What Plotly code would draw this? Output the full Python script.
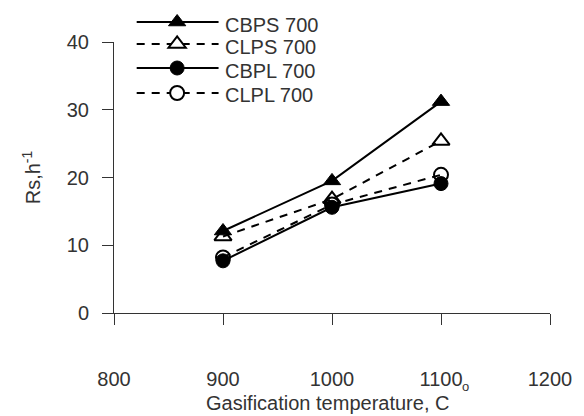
import plotly.graph_objects as go

temps = [900, 1000, 1100]
cbps = [12.1, 19.5, 31.2]
clps = [11.3, 16.8, 25.4]
cbpl = [7.7, 15.6, 19.1]
clpl = [8.2, 16.0, 20.4]
series_names = ["CBPS 700", "CLPS 700", "CBPL 700", "CLPL 700"]
x_ticks = [800, 900, 1000, 1100, 1200]
y_ticks = [0, 10, 20, 30, 40]

# page body has an 8px margin; compensate so the chart lands where the reference has it
OFF = 8
W, H = 584 - OFF, 416 - OFF
L, R, T, B = 114 - OFF, 28, 42 - OFF, 103
PW, PH = W - L - R, H - T - B
def px(x):
    return (x - OFF - L) / PW
def py(y):
    return (T + PH - (y - OFF)) / PH

FONT = "Liberation Sans, Arial, sans-serif"
TXT = "#333333"

styles = [
    dict(dash="solid", symbol="triangle-up", size=15, fill=True),
    dict(dash="8px,7px", symbol="triangle-up-open", size=15, fill=False),
    dict(dash="solid", symbol="circle", size=14, fill=True),
    dict(dash="8px,7px", symbol="circle-open", size=14, fill=False),
]
data = [cbps, clps, cbpl, clpl]
order = [1, 0, 3, 2]

fig = go.Figure()
for i in order:
    st = styles[i]
    fig.add_trace(go.Scatter(
        x=temps, y=data[i], name=series_names[i], mode="lines+markers",
        line=dict(color="black", width=2, dash=st["dash"]),
        marker=dict(symbol=st["symbol"], size=st["size"], color="black",
                    line=dict(color="black", width=1 if st["fill"] else 2)),
        showlegend=False, cliponaxis=False,
    ))

# manual legend
leg_line_y = [22, 44, 68, 93]
leg_text_y = [24.5, 47, 71, 95]
shapes = []
annotations = []
for i, nm in enumerate(series_names):
    st = styles[i]
    yl = py(leg_line_y[i])
    shapes.append(dict(type="line", xref="paper", yref="paper",
                       x0=px(137), x1=px(220), y0=yl, y1=yl,
                       line=dict(color="black", width=2,
                                 dash="solid" if st["dash"] == "solid" else "8px,7px")))
    fillc = "black" if st["fill"] else "white"
    if "triangle" in st["symbol"]:
        r = st["size"] / 2
        rt = r * 2 / 3 ** 0.5
        path = f"M{-rt:.2f},{-r/2:.2f} L{rt:.2f},{-r/2:.2f} L0,{r:.2f} Z"
        shapes.append(dict(type="path", xref="paper", yref="paper",
                           xsizemode="pixel", ysizemode="pixel",
                           xanchor=px(178), yanchor=yl, path=path,
                           fillcolor=fillc,
                           line=dict(color="black", width=1 if st["fill"] else 2)))
    else:
        r = st["size"] / 2
        shapes.append(dict(type="circle", xref="paper", yref="paper",
                           xsizemode="pixel", ysizemode="pixel",
                           xanchor=px(178), yanchor=yl,
                           x0=-r, x1=r, y0=-r, y1=r, fillcolor=fillc,
                           line=dict(color="black", width=1 if st["fill"] else 2)))
    annotations.append(dict(text=nm, xref="paper", yref="paper",
                            x=px(225), y=py(leg_text_y[i]), xanchor="left",
                            yanchor="middle", showarrow=False,
                            font=dict(family=FONT, size=20, color=TXT)))

# x title and degree sign
annotations.append(dict(text="Gasification temperature, C", xref="paper", yref="paper",
                        x=px(205), y=py(403), xanchor="left", yanchor="middle",
                        showarrow=False, font=dict(family=FONT, size=20, color=TXT)))
annotations.append(dict(text="o", xref="paper", yref="paper",
                        x=px(470), y=py(386), xanchor="center", yanchor="middle",
                        showarrow=False, font=dict(family=FONT, size=13, color=TXT)))

fig.update_layout(
    width=W, height=H,
    margin=dict(l=L, r=R, t=T, b=B, pad=0),
    paper_bgcolor="white", plot_bgcolor="white",
    font=dict(family=FONT, size=20, color=TXT),
    shapes=shapes, annotations=annotations,
    showlegend=False,
)
fig.update_xaxes(range=[800, 1200], tickvals=x_ticks, ticktext=[str(v) for v in x_ticks],
                 showgrid=False, zeroline=False, showline=True, linecolor="#333333",
                 linewidth=1, ticks="outside", ticklen=11, tickcolor="#333333",
                 ticklabelstandoff=37, tickfont=dict(size=20, color=TXT))
fig.update_yaxes(range=[0, 40], tickvals=y_ticks, showgrid=False, zeroline=False,
                 showline=True, linecolor="#333333", linewidth=1, ticks="outside",
                 ticklen=11, tickcolor="#333333", ticklabelstandoff=9,
                 tickfont=dict(size=20, color=TXT),
                 title=dict(text="Rs,h<sup>-1</sup>", standoff=20,
                            font=dict(size=20, color=TXT)))
fig.write_html("out.html")
